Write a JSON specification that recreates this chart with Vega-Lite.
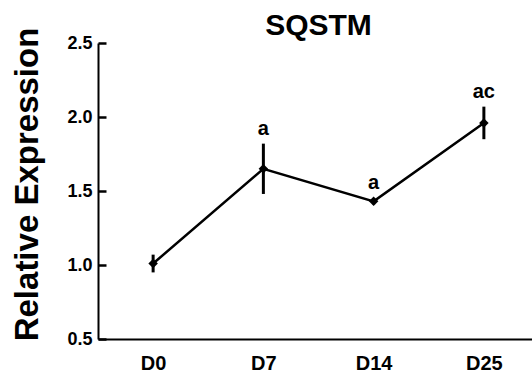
{
  "$schema": "https://vega.github.io/schema/vega-lite/v6.json",
  "width": 441,
  "height": 296,
  "autosize": {"type": "none"},
  "padding": {"left": 98, "top": 43, "right": 0, "bottom": 38},
  "background": "white",
  "config": {
    "view": {"stroke": null},
    "font": "Liberation Sans"
  },
  "title": {
    "text": "SQSTM",
    "fontSize": 30,
    "fontWeight": "bold",
    "font": "Liberation Sans",
    "color": "black",
    "anchor": "middle",
    "frame": "group",
    "baseline": "alphabetic",
    "offset": 8,
    "dy": 46
  },
  "data": {
    "values": [
      {"day": "D0", "mean": 1.01, "lo": 0.95, "hi": 1.07, "label": ""},
      {"day": "D7", "mean": 1.65, "lo": 1.48, "hi": 1.82, "label": "a"},
      {"day": "D14", "mean": 1.43, "lo": 1.41, "hi": 1.45, "label": "a"},
      {"day": "D25", "mean": 1.96, "lo": 1.85, "hi": 2.07, "label": "ac"}
    ]
  },
  "encoding": {
    "x": {
      "field": "day",
      "type": "ordinal",
      "sort": ["D0", "D7", "D14", "D25"],
      "scale": {"type": "point", "padding": 0.5},
      "axis": {
        "title": null,
        "labelAngle": 0,
        "ticks": false,
        "domainColor": "black",
        "domainWidth": 2,
        "labelFont": "Liberation Sans",
        "labelFontWeight": "bold",
        "labelFontSize": 20,
        "labelColor": "black",
        "labelPadding": 14,
        "labelBaseline": "top"
      }
    }
  },
  "layer": [
    {
      "mark": {"type": "line", "color": "black", "strokeWidth": 2.5},
      "encoding": {
        "y": {
          "field": "mean",
          "type": "quantitative",
          "scale": {"domain": [0.5, 2.5], "nice": false, "zero": false},
          "axis": {
            "orient": "left",
            "title": "Relative Expression",
            "titleFont": "Liberation Sans",
            "titleFontSize": 33,
            "titleFontWeight": "bold",
            "titleColor": "black",
            "titleAngle": -90,
            "titleBaseline": "alphabetic",
            "titleAnchor": "middle",
            "titleX": -61,
            "titleY": 141,
            "values": [0.5, 1.0, 1.5, 2.0, 2.5],
            "format": ".1f",
            "grid": false,
            "domainColor": "black",
            "domainWidth": 2,
            "ticks": true,
            "tickColor": "black",
            "tickWidth": 2.5,
            "tickSize": -8,
            "labelFont": "Liberation Sans",
            "labelFontWeight": "bold",
            "labelFontSize": 18,
            "labelColor": "black",
            "labelPadding": 14
          }
        }
      }
    },
    {
      "mark": {"type": "rule", "color": "black", "strokeWidth": 3},
      "encoding": {
        "y": {"field": "lo", "type": "quantitative"},
        "y2": {"field": "hi"}
      }
    },
    {
      "mark": {"type": "point", "shape": "diamond", "filled": true, "color": "black", "size": 90, "opacity": 1},
      "encoding": {
        "y": {"field": "mean", "type": "quantitative"}
      }
    },
    {
      "mark": {"type": "text", "fontSize": 20, "fontWeight": "bold", "font": "Liberation Sans", "color": "black", "baseline": "alphabetic", "dy": -9},
      "encoding": {
        "y": {"field": "hi", "type": "quantitative"},
        "text": {"field": "label"}
      }
    }
  ]
}
